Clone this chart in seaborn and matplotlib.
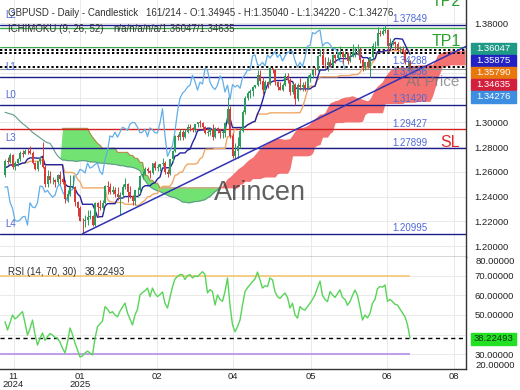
import numpy as np
import pandas as pd
import matplotlib
matplotlib.use("Agg")
import matplotlib.pyplot as plt
from matplotlib.patches import Rectangle
from matplotlib.ticker import FuncFormatter
from matplotlib.transforms import blended_transform_factory
import seaborn as sns

# ---------------- data ----------------
opens = [1.2575,1.2690,1.2680,1.2735,1.2640,1.2670,1.2700,1.2750,1.2745,1.2770,
1.2765,1.2750,1.2670,1.2620,1.2685,1.2715,1.2640,1.2505,1.2570,1.2530,
1.2530,1.2515,1.2575,1.2540,1.2515,1.2380,1.2420,1.2475,1.2480,1.2355,
1.2305,1.2205,1.2200,1.2210,1.2235,1.2240,1.2170,1.2350,1.2315,1.2310,
1.2350,1.2485,1.2480,1.2435,1.2450,1.2420,1.2395,1.2410,1.2480,1.2500,
1.2440,1.2405,1.2365,1.2450,1.2455,1.2570,1.2580,1.2620,1.2610,1.2590,
1.2670,1.2630,1.2640,1.2660,1.2670,1.2600,1.2580,1.2700,1.2770,1.2890,
1.2880,1.2920,1.2880,1.2920,1.2960,1.2950,1.2935,1.2985,1.3000,1.2995,
1.2960,1.2915,1.2920,1.2945,1.2885,1.2955,1.2940,1.2915,1.2915,1.2995,
1.3110,1.2890,1.2725,1.2770,1.2810,1.2930,1.3085,1.3195,1.3235,1.3255,
1.3285,1.3300,1.3380,1.3330,1.3260,1.3325,1.3310,1.3435,1.3420,1.3325,
1.3285,1.3265,1.3300,1.3375,1.3345,1.3245,1.3300,1.3185,1.3305,1.3285,
1.3300,1.3275,1.3360,1.3385,1.3425,1.3420,1.3535,1.3545,1.3465,1.3460,
1.3485,1.3455,1.3545,1.3520,1.3545,1.3570,1.3525,1.3550,1.3495,1.3535,
1.3565,1.3570,1.3575,1.3500,1.3445,1.3485,1.3450,1.3525,1.3615,1.3620,
1.3725,1.3715,1.3735,1.3745,1.3615,1.3640,1.3645,1.3630,1.3595,1.3595,
1.3570,1.3490,1.34945]
highs = [1.2705,1.2720,1.2750,1.2745,1.2690,1.2715,1.2765,1.2780,1.2785,1.2790,
1.2810,1.2765,1.2680,1.2690,1.2730,1.2840,1.2655,1.2615,1.2610,1.2560,
1.2545,1.2580,1.2605,1.2570,1.2535,1.2450,1.2575,1.2575,1.2485,1.2365,
1.2320,1.2225,1.2250,1.2290,1.2290,1.2250,1.2355,1.2355,1.2375,1.2375,
1.2490,1.2525,1.2510,1.2485,1.2480,1.2475,1.2435,1.2505,1.2550,1.2510,
1.2485,1.2415,1.2455,1.2475,1.2575,1.2610,1.2640,1.2635,1.2615,1.2675,
1.2690,1.2665,1.2665,1.2715,1.2690,1.2625,1.2705,1.2780,1.2895,1.2905,
1.2945,1.2940,1.2945,1.2990,1.2985,1.2965,1.2990,1.3005,1.3015,1.3005,
1.2970,1.2935,1.2955,1.2990,1.2960,1.2965,1.2945,1.2935,1.3000,1.3207,
1.3135,1.2910,1.2830,1.2885,1.2965,1.3100,1.3215,1.3250,1.3270,1.3295,
1.3305,1.3425,1.3425,1.3370,1.3340,1.3335,1.3445,1.3440,1.3425,1.3335,
1.3325,1.3315,1.3400,1.3400,1.3360,1.3315,1.3320,1.3315,1.3360,1.3325,
1.3335,1.3380,1.3400,1.3430,1.3445,1.3545,1.3593,1.3595,1.3525,1.3525,
1.3510,1.3555,1.3555,1.3565,1.3615,1.3580,1.3575,1.3565,1.3580,1.3630,
1.3605,1.3630,1.3605,1.3520,1.3490,1.3515,1.3525,1.3640,1.3660,1.3770,
1.3745,1.3770,1.3788,1.3750,1.3680,1.3670,1.3655,1.3650,1.3620,1.3615,
1.3595,1.3515,1.35040]
lows = [1.2560,1.2665,1.2670,1.2620,1.2615,1.2645,1.2690,1.2720,1.2740,1.2740,
1.2740,1.2665,1.2615,1.2610,1.2665,1.2630,1.2475,1.2475,1.2510,1.2505,
1.2475,1.2505,1.2505,1.2505,1.2350,1.2355,1.2405,1.2470,1.2325,1.2240,
1.2200,1.2100,1.2155,1.2170,1.2215,1.2160,1.2160,1.2235,1.2290,1.2285,
1.2340,1.2420,1.2420,1.2420,1.2400,1.2375,1.2250,1.2395,1.2465,1.2355,
1.2385,1.2335,1.2335,1.2395,1.2425,1.2545,1.2575,1.2590,1.2550,1.2580,
1.2615,1.2605,1.2605,1.2645,1.2585,1.2560,1.2575,1.2680,1.2760,1.2855,
1.2860,1.2860,1.2870,1.2915,1.2930,1.2920,1.2925,1.2965,1.2965,1.2945,
1.2905,1.2890,1.2900,1.2860,1.2875,1.2915,1.2875,1.2875,1.2880,1.2990,
1.2870,1.2708,1.2710,1.2710,1.2795,1.2925,1.3070,1.3180,1.3195,1.3215,
1.3275,1.3295,1.3310,1.3230,1.3245,1.3280,1.3300,1.3395,1.3300,1.3265,
1.3260,1.3250,1.3290,1.3320,1.3220,1.3230,1.3140,1.3175,1.3265,1.3255,
1.3250,1.3270,1.3325,1.3355,1.3385,1.3415,1.3535,1.3460,1.3440,1.3415,
1.3445,1.3445,1.3480,1.3505,1.3530,1.3480,1.3510,1.3475,1.3485,1.3525,
1.3530,1.3545,1.3480,1.3415,1.3420,1.3440,1.3370,1.3510,1.3590,1.3615,
1.3700,1.3705,1.3720,1.3565,1.3600,1.3625,1.3585,1.3565,1.3560,1.3555,
1.3470,1.3420,1.34220]
closes = [1.2690,1.2680,1.2735,1.2640,1.2670,1.2700,1.2750,1.2745,1.2770,1.2765,
1.2750,1.2670,1.2620,1.2685,1.2715,1.2640,1.2505,1.2570,1.2530,1.2530,
1.2515,1.2575,1.2540,1.2515,1.2380,1.2420,1.2475,1.2480,1.2355,1.2305,
1.2205,1.2200,1.2210,1.2235,1.2240,1.2170,1.2350,1.2315,1.2310,1.2350,
1.2485,1.2480,1.2435,1.2450,1.2420,1.2395,1.2410,1.2480,1.2500,1.2440,
1.2405,1.2365,1.2450,1.2455,1.2570,1.2580,1.2620,1.2610,1.2590,1.2670,
1.2630,1.2640,1.2660,1.2670,1.2600,1.2580,1.2700,1.2770,1.2890,1.2880,
1.2920,1.2880,1.2920,1.2960,1.2950,1.2935,1.2985,1.3000,1.2995,1.2960,
1.2915,1.2920,1.2945,1.2885,1.2955,1.2940,1.2915,1.2915,1.2995,1.3110,
1.2890,1.2725,1.2770,1.2810,1.2930,1.3085,1.3195,1.3235,1.3255,1.3285,
1.3300,1.3380,1.3330,1.3260,1.3325,1.3310,1.3435,1.3420,1.3325,1.3285,
1.3265,1.3300,1.3375,1.3345,1.3245,1.3300,1.3185,1.3305,1.3285,1.3300,
1.3275,1.3360,1.3385,1.3425,1.3420,1.3535,1.3545,1.3465,1.3460,1.3485,
1.3455,1.3545,1.3520,1.3545,1.3570,1.3525,1.3550,1.3495,1.3535,1.3565,
1.3570,1.3575,1.3500,1.3445,1.3485,1.3450,1.3525,1.3615,1.3620,1.3725,
1.3715,1.3735,1.3745,1.3615,1.3640,1.3645,1.3630,1.3595,1.3595,1.3570,
1.3490,1.34945,1.34276]

# Ichimoku leading spans as read from the cloud (span A from bar 0, span B from bar 23)
span_a = [1.3081,1.3075,1.3068,1.3064,1.3050,1.3030,1.3008,1.2990,1.2975,1.2958,1.2940,
1.2919,1.2905,1.2890,1.2875,1.2860,1.2845,1.2835,1.2830,1.2800,1.2760,1.2730,1.2710,
1.2695,1.2695,1.2690,1.2690,1.2690,1.2685,1.2685,1.2690,1.2690,1.2690,1.2685,1.2680,1.2680,1.2680,1.2675,1.2670,
1.2670,1.2668,1.2665,1.2665,1.2660,1.2660,1.2655,1.2650,1.2650,1.2645,1.2640,1.2640,1.2635,1.2630,1.2620,1.2610,
1.2560,1.2530,1.2500,1.2480,1.2465,1.2455,1.2445,
1.2440,1.2430,1.2420,1.2410,1.2400,1.2395,1.2390,1.2380,1.2370,
1.2355,1.2355,1.2350,1.2350,1.2355,1.2360,1.2360,1.2365,1.2370,1.2375,
1.2390,1.2400,1.2420,1.2440,1.2455,1.2470,1.2490,1.2520,
1.2547,1.2560,1.2580,1.2600,1.2620,1.2636,1.2650,1.2670,1.2690,1.2705,1.2717,
1.2740,1.2765,1.2790,1.2810,1.2820,1.2830,1.2845,1.2855,1.2865,
1.2870,1.2870,1.2865,1.2863,1.2865,1.2870,1.2900,1.2930,
1.2951,1.2958,1.2958,1.2965,1.2975,1.2992,1.3010,1.3030,1.3050,1.3067,
1.3067,1.3080,1.3121,1.3157,1.3165,1.3175,1.3178,1.3190,1.3198,
1.3205,1.3205,1.3210,1.3215,1.3205,1.3200,1.3195,1.3185,1.3180,1.3174,1.3190,1.3230,1.3270,1.3293,
1.3310,1.3330,1.3370,1.3396,1.3420,1.3435,1.3440,1.3444,1.3446,1.3446,
1.3446,1.3450,1.3455,1.3460,1.3460,1.3463,1.3463,1.3465,1.3463,1.3463,1.3470,1.3470,
1.3500,1.3545,1.3560,1.3566,1.3570,1.3575,1.3579,1.3579,1.3579,1.3579,1.3580,1.3582,1.3585]
span_b_first_bar = 23
span_b = [1.2951,1.2951,1.2951,1.2951,1.2951,1.2951,1.2951,1.2951,1.2951,1.2951,1.2951,
1.2911,1.2880,1.2854,1.2830,1.2814,
1.2790,1.2790,1.2790,1.2790,1.2790,1.2790,
1.2757,1.2757,1.2757,1.2757,1.2757,
1.2733,1.2733,1.2709,1.2709,1.2676,1.2676,1.2571,1.2571,1.2531,1.2531,1.2507,1.2507,
1.2470,1.2470,1.2470,1.2470,1.2470,1.2470,1.2470,1.2470,1.2470,1.2470,1.2470,
1.2470,1.2470,1.2470,1.2470,1.2470,1.2470,1.2470,1.2470,1.2470,1.2470,
1.2470,1.2470,1.2470,1.2470,1.2470,1.2470,1.2470,1.2470,1.2470,1.2470,1.2470,
1.2498,1.2503,1.2523,1.2523,1.2523,1.2545,1.2545,1.2545,1.2545,1.2553,
1.2558,1.2558,1.2558,1.2558,1.2558,1.2585,1.2588,1.2588,1.2588,1.2588,1.2625,
1.2729,1.2729,1.2729,1.2729,1.2729,1.2729,1.2729,
1.2733,1.2750,1.2803,1.2815,1.2820,1.2880,1.2880,1.2880,1.2910,1.2925,
1.2995,1.2998,1.2998,1.2998,
1.3003,1.3003,1.3003,1.3003,1.3003,1.3003,1.3003,1.3010,1.3063,
1.3077,1.3077,1.3077,1.3077,1.3077,1.3077,1.3077,
1.3151,1.3152,1.3152,1.3152,1.3152,1.3152,1.3152,1.3152,
1.3162,1.3162,1.3162,1.3162,1.3162,
1.3169,1.3169,1.3169,1.3169,1.3169,1.3169,
1.3213,1.3278,1.3355,1.3400,1.3455,1.3455,1.3455,
1.3464,1.3464,1.3464,1.3464,1.3464,1.3464,1.3464]

rsi = [46.6,42.3,46.0,50.0,48.0,49.0,50.5,51.7,46.0,39.7,
43.0,47.4,40.0,34.6,38.0,40.8,37.0,38.9,40.5,39.7,
38.5,38.1,36.0,33.0,30.5,36.0,43.3,40.0,35.6,32.0,
28.5,29.0,30.5,31.5,30.5,29.5,38.0,44.0,45.5,47.0,
54.3,53.0,51.0,51.7,50.0,49.1,52.0,54.0,56.1,51.0,
48.0,44.9,50.0,53.0,60.3,61.5,62.5,63.8,59.4,63.8,
61.0,59.4,60.5,61.8,56.0,53.6,59.0,64.5,68.5,69.7,
70.7,70.7,68.2,70.2,70.7,69.0,70.0,69.7,71.0,72.2,
70.8,61.3,63.0,62.0,55.1,60.3,58.0,57.0,62.0,69.0,
55.0,45.0,41.4,44.0,47.4,55.0,62.0,64.0,65.5,67.1,
68.5,72.0,68.0,63.8,65.0,64.6,69.0,68.0,62.0,59.4,
58.5,60.0,61.3,59.0,53.6,56.0,50.0,48.4,54.3,53.0,
52.5,54.3,56.0,58.0,60.3,64.0,67.4,60.0,58.0,56.9,
62.0,60.3,59.0,61.0,62.9,59.0,58.0,55.0,56.9,60.0,
62.8,60.0,54.0,47.4,50.0,48.5,50.8,56.0,58.0,63.5,
64.6,64.3,65.4,57.0,58.0,56.9,55.5,55.1,53.0,51.0,
49.1,45.0,38.22493]

level_names = ["L2", "L1", "L0", "L3", "L4"]
level_prices = [1.37849, 1.33636, 1.31420, 1.27899, 1.20995]
level_labels = ["1.37849", "1.33636", "1.31420", "1.27899", "1.20995"]
red_level = 1.29427
tp1_price, tp2_price = 1.3605, 1.3765
dotted_prices = [1.3585, 1.3562, 1.3447]
dotted_label = "1.34288"
last_close = 1.34276
trend_bars = [31, 185]
trend_prices = [1.20995, 1.3619]

box_labels = ["1.36047", "1.35875", "1.35790", "1.34635", "1.34276"]
box_colors = ["#1f9a86", "#2222c4", "#e8780e", "#d11f3d", "#3d8de0"]
rsi_last = 38.22493
month_labels = ["11\n2024", "01\n2025", "02", "04", "05", "06", "08"]
price_ticks = [1.20, 1.22, 1.24, 1.26, 1.28, 1.30, 1.32, 1.34, 1.36, 1.38]
hidden_price_ticks = [1.32, 1.34, 1.36]      # covered by the price boxes
rsi_ticks = [30, 40, 50, 60, 70]
hidden_rsi_ticks = [40]                      # covered by the RSI box

title_left = "GBPUSD - Daily - Candlestick"
title_right = "161/214 - O:1.34945 - H:1.35040 - L:1.34220 - C:1.34276"
ichi_left = "ICHIMOKU (9, 26, 52)"
ichi_right = "n/a/n/a/n/a/1.36047/1.34635"

# ---------------- layout ----------------
W, H = 520, 390
def fx(x): return x / W
def fy(y): return 1 - y / H

sns.set_theme(style="white")
plt.rcParams["font.family"] = ["Liberation Sans", "DejaVu Sans"]

fig = plt.figure(figsize=(5.2, 3.9), dpi=100)
fig.patch.set_facecolor("white")
ax = fig.add_axes([0, fy(257), fx(466), 257 / H])
ax2 = fig.add_axes([0, fy(369), fx(466), (369 - 257) / H])

n = len(closes)
bars = np.arange(n)
df = pd.DataFrame({"bar": bars, "open": opens, "high": highs, "low": lows, "close": closes})
df["tenkan"] = (df.high.rolling(9, min_periods=1).max() + df.low.rolling(9, min_periods=1).min()) / 2
df["kijun"] = (df.high.rolling(26, min_periods=1).max() + df.low.rolling(26, min_periods=1).min()) / 2

XMIN, XMAX = -2, 184.4
tick_pos = [3.4, 30, 60.7, 91.2, 122.4, 152.7, 179.5]
grid_c = "#e6e6e6"

def make_fmt(hidden):
    def f(v, pos):
        if any(abs(v - h) < 1e-6 for h in hidden):
            return ""
        return f"{v:.5f}"
    return FuncFormatter(f)

# ---------------- main panel ----------------
ax.set_xlim(XMIN, XMAX)
ax.set_ylim(1.19115, 1.39883)
ax.set_yticks(price_ticks)
ax.yaxis.tick_right()
ax.yaxis.set_major_formatter(make_fmt(hidden_price_ticks))
ax.tick_params(axis="y", labelsize=6.8, labelcolor="#222222", length=0, pad=6)
ax.set_xticks(tick_pos)
ax.tick_params(axis="x", labelbottom=False, length=0)
ax.grid(True, color=grid_c, lw=0.6)
ax.set_axisbelow(True)
for s in ["left", "top"]:
    ax.spines[s].set_visible(False)
for s in ["right", "bottom"]:
    ax.spines[s].set_color("#333333")
    ax.spines[s].set_linewidth(1)

# cloud
A = np.array(span_a)
xa = np.arange(len(A))
B = np.full(len(A), np.nan)
B[span_b_first_bar:span_b_first_bar + len(span_b)] = span_b
valid = ~np.isnan(B)
Bf = np.where(valid, B, A)
ax.fill_between(xa, A, Bf, where=valid & (Bf >= A), color="#72e272", lw=0, interpolate=True, zorder=1)
ax.fill_between(xa, A, Bf, where=valid & (A > Bf), color="#f47272", lw=0, interpolate=True, zorder=1)
a_line = np.where(~valid | (Bf >= A - 1e-9), A, np.nan)
ax.plot(xa, a_line, color="#5e9b8b", lw=0.8, zorder=2)
b_line = np.where(valid & (Bf >= A), Bf, np.nan)
ax.plot(xa, b_line, color="#b0884a", lw=0.8, zorder=2)

# horizontal levels
for p in level_prices:
    ax.axhline(p, color="#1d1d8a", lw=1, zorder=2.2)
ax.axhline(red_level, color="#d42020", lw=1, zorder=2.2)
ax.axhline(tp2_price, color="#3aa84a", lw=1, zorder=2.2)
ax.axhline(tp1_price, color="#3aa84a", lw=0.8, zorder=2.2)
ax.axhline(last_close, color="#8c8c8c", lw=0.8, zorder=2.2)
for p in dotted_prices:
    ax.axhline(p, color="black", lw=1.4, ls=(0, (1.2, 1.2)), zorder=2.3)

# ichimoku lines
sns.lineplot(x=bars[:n - 26], y=np.array(closes)[26:], ax=ax, color="#62aee8", lw=0.9, zorder=3)
sns.lineplot(data=df, x="bar", y="kijun", ax=ax, color="#f0a868", lw=1.0, zorder=3)
sns.lineplot(data=df, x="bar", y="tenkan", ax=ax, color="#2424a0", lw=1.0, zorder=3)
ax.set_xlabel("")
ax.set_ylabel("")

# candles
o = np.array(opens); c = np.array(closes)
up = c >= o
col = np.where(up, "#2a9d5c", "#d83a3a")
ax.vlines(bars, lows, highs, colors=col, lw=0.7, zorder=4)
ax.bar(bars, np.maximum(np.abs(c - o), 0.0004), bottom=np.minimum(o, c), width=0.6,
       color=col, lw=0, zorder=4.5)

# trend line
ax.plot(trend_bars, trend_prices, color="#3232b4", lw=1.1, zorder=4.6)

# level texts
tr = blended_transform_factory(ax.transAxes, ax.transData)
lbl_c = "#5068d8"
for name, p in zip(level_names, level_prices):
    ax.text(11 / 466, p + 0.0080, name, transform=tr, ha="center", va="center",
            fontsize=7, color=lbl_c, zorder=6)
for lab, p in zip(level_labels + ["1.29427", dotted_label],
                  level_prices + [red_level, dotted_prices[2]]):
    ax.text(392 / 466, p + 0.0046, lab, transform=tr, ha="left", va="center",
            fontsize=7, color=lbl_c, zorder=6)

# big texts
def ptext(x, y, s, **kw):
    return ax.text(fx(x), fy(y), s, transform=fig.transFigure, clip_on=True, **kw)
ptext(446, 2, "TP2", ha="center", va="center", fontsize=11.5, color="#2ea02e", zorder=7)
ptext(446, 41, "TP1", ha="center", va="center", fontsize=11.5, color="#2ea02e", zorder=7)
ptext(450, 142.5, "SL", ha="center", va="center", fontsize=11.5, color="#e02828", zorder=7)
ptext(433, 82.5, "At Price", ha="center", va="center", fontsize=11, color="#777777",
      alpha=0.75, zorder=7)
ptext(259.5, 193, "Arincen", ha="center", va="center", fontsize=19.5, color="#3a3a3a",
      alpha=0.8, zorder=7)

# header texts
fig.text(fx(8), fy(12.7), title_left, fontsize=7, color="#333333", va="center", ha="left")
fig.text(fx(145.7), fy(12.7), title_right, fontsize=7, color="#333333", va="center", ha="left")
fig.text(fx(8), fy(28.5), ichi_left, fontsize=7, color="#333333", va="center", ha="left")
fig.text(fx(113), fy(28.5), ichi_right, fontsize=7, color="#333333", va="center", ha="left")

# right price boxes
box_centers = [48.5, 60.7, 72.6, 84.6, 96.7]
for lab, colr, cy in zip(box_labels, box_colors, box_centers):
    fig.add_artist(Rectangle((fx(471), fy(cy + 5.8)), 45 / W, 11.6 / H,
                             transform=fig.transFigure, color=colr, zorder=5))
    fig.text(fx(493.5), fy(cy), lab, ha="center", va="center", fontsize=6.8,
             color="white", zorder=6)

# ---------------- RSI panel ----------------
ax2.set_xlim(XMIN, XMAX)
ax2.set_ylim(22.31, 79.74)
ax2.set_yticks(rsi_ticks)
ax2.yaxis.tick_right()
ax2.yaxis.set_major_formatter(make_fmt(hidden_rsi_ticks))
ax2.tick_params(axis="y", labelsize=6.8, labelcolor="#222222", length=0, pad=6)
ax2.set_xticks(tick_pos)
ax2.set_xticklabels(month_labels, fontsize=6.8, color="#222222", linespacing=0.95)
ax2.tick_params(axis="x", length=0, pad=2)
ax2.grid(True, color=grid_c, lw=0.6)
ax2.set_axisbelow(True)
for s in ["left", "top"]:
    ax2.spines[s].set_visible(False)
for s in ["right", "bottom"]:
    ax2.spines[s].set_color("#333333")
    ax2.spines[s].set_linewidth(1)

ax2.hlines(70, XMIN, n - 1, color="#f3c46a", lw=1.1, zorder=2)
ax2.hlines(30, XMIN, n - 1, color="#b68ee8", lw=1.2, zorder=2)
ax2.axhline(rsi_last, color="black", lw=1, ls=(0, (3, 2.5)), zorder=2)
sns.lineplot(x=bars, y=rsi, ax=ax2, color="#58d458", lw=1.0, zorder=3)
ax2.set_xlabel("")
ax2.set_ylabel("")

fig.text(fx(8), fy(272.3), "RSI (14, 70, 30)", fontsize=7, color="#333333", va="center")
fig.text(fx(85), fy(272.3), f"{rsi_last:.5f}", fontsize=7, color="#333333", va="center")
fig.text(fx(475.5), fy(261.5), "80.00000", fontsize=6.8, color="#222222", va="center")
fig.text(fx(475.5), fy(365), "20.00000", fontsize=6.8, color="#222222", va="center")
fig.add_artist(Rectangle((fx(471), fy(338.5 + 6)), 45 / W, 12 / H,
                         transform=fig.transFigure, color="#22e022", zorder=5))
fig.text(fx(493.5), fy(338.5), f"{rsi_last:.5f}", ha="center", va="center", fontsize=6.8,
         color="#143214", zorder=6)

fig.savefig("out.png", dpi=100)
